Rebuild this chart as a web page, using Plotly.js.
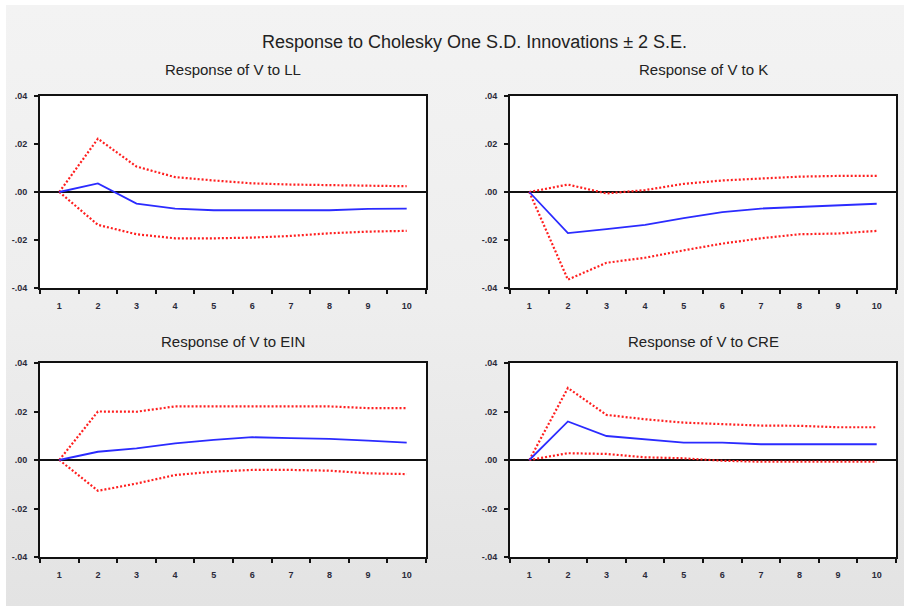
<!DOCTYPE html>
<html>
<head>
<meta charset="utf-8">
<script src="https://cdn.plot.ly/plotly-3.0.1.min.js"></script>
<style>
  html, body { margin: 0; padding: 0; }
  body { width: 904px; height: 606px; overflow: hidden; background: #fff; }
  #bg { position: absolute; left: 6px; top: 5px; width: 898px; height: 601px;
        background: linear-gradient(to bottom, #f3f3f3 0%, #eeeeee 50%, #e3e3e3 100%); }
  #chart { position: absolute; left: 0; top: 0; width: 904px; height: 606px; }
</style>
</head>
<body>
<div id="bg"></div>
<div id="chart"></div>
<script>
// Periods
const periods = [1, 2, 3, 4, 5, 6, 7, 8, 9, 10];

// Response of V to LL
const llResp  = [0, 0.0036, -0.0048, -0.0069, -0.0076, -0.0076, -0.0076, -0.0076, -0.0070, -0.0069];
const llUpper = [0, 0.0222, 0.0106, 0.0062, 0.0048, 0.0036, 0.0031, 0.0028, 0.0024, 0.0024];
const llLower = [0, -0.0137, -0.0176, -0.0193, -0.0193, -0.0190, -0.0183, -0.0172, -0.0165, -0.0162];

// Response of V to K
const kResp  = [0, -0.0171, -0.0155, -0.0137, -0.0109, -0.0084, -0.0069, -0.0062, -0.0055, -0.0049];
const kUpper = [0, 0.0031, -0.0006, 0.0008, 0.0034, 0.0048, 0.0056, 0.0064, 0.0067, 0.0067];
const kLower = [0, -0.0365, -0.0295, -0.0274, -0.0243, -0.0215, -0.0193, -0.0176, -0.0173, -0.0162];

// Response of V to EIN
const einResp  = [0, 0.0034, 0.0048, 0.0069, 0.0083, 0.0094, 0.0090, 0.0087, 0.0080, 0.0072];
const einUpper = [0, 0.0200, 0.0199, 0.0221, 0.0221, 0.0221, 0.0221, 0.0221, 0.0214, 0.0214];
const einLower = [0, -0.0127, -0.0097, -0.0062, -0.0048, -0.0041, -0.0041, -0.0044, -0.0055, -0.0058];

// Response of V to CRE
const creResp  = [0, 0.0159, 0.0099, 0.0086, 0.0072, 0.0072, 0.0065, 0.0065, 0.0065, 0.0065];
const creUpper = [0, 0.0297, 0.0186, 0.0168, 0.0154, 0.0148, 0.0142, 0.0141, 0.0135, 0.0135];
const creLower = [0, 0.0028, 0.0025, 0.0011, 0.0007, -0.0003, -0.0007, -0.0007, -0.0007, -0.0007];

// Tick labels
const yTickVals = [-0.04, -0.02, 0, 0.02, 0.04];
const yTickText = ['-.04', '-.02', '.00', '.02', '.04'];
const xTickText = ['1', '2', '3', '4', '5', '6', '7', '8', '9', '10'];

const panelTitles = ['Response of V to LL', 'Response of V to K', 'Response of V to EIN', 'Response of V to CRE'];
const mainTitle = 'Response to Cholesky One S.D. Innovations \u00B1 2 S.E.';

const panels = [
  {resp: llResp, up: llUpper, lo: llLower},
  {resp: kResp, up: kUpper, lo: kLower},
  {resp: einResp, up: einUpper, lo: einLower},
  {resp: creResp, up: creUpper, lo: creLower}
];

const W = 904, H = 606;
const boxes = [
  {l: 40, r: 426, t: 96, b: 288},
  {l: 510, r: 896, t: 96, b: 288},
  {l: 40, r: 426, t: 363, b: 557},
  {l: 510, r: 896, t: 363, b: 557}
];
const titlePos = [[233, 70], [703, 70], [233, 341], [703, 341]];

const RED = '#ff1f1f';
const BLUE = '#2b2bff';
const FONT = 'Liberation Sans, Arial, sans-serif';
const traces = [];
const layout = {
  width: W, height: H,
  margin: {l: 0, r: 0, t: 0, b: 0},
  paper_bgcolor: 'rgba(0,0,0,0)',
  plot_bgcolor: '#ffffff',
  showlegend: false,
  font: {family: FONT, color: '#222'},
  annotations: []
};

panels.forEach((p, i) => {
  const n = i + 1;
  const xa = 'x' + (n === 1 ? '' : n), ya = 'y' + (n === 1 ? '' : n);
  traces.push({x: periods, y: p.up, xaxis: xa, yaxis: ya, mode: 'lines',
    line: {color: RED, width: 2.2, dash: '2px,2px'}, hoverinfo: 'skip'});
  traces.push({x: periods, y: p.lo, xaxis: xa, yaxis: ya, mode: 'lines',
    line: {color: RED, width: 2.2, dash: '2px,2px'}, hoverinfo: 'skip'});
  traces.push({x: periods, y: p.resp, xaxis: xa, yaxis: ya, mode: 'lines',
    line: {color: BLUE, width: 1.8}, hoverinfo: 'skip'});
  const bx = boxes[i];
  const xName = 'xaxis' + (n === 1 ? '' : n), yName = 'yaxis' + (n === 1 ? '' : n);
  layout[xName] = {
    domain: [bx.l / W, bx.r / W], anchor: 'y' + (n === 1 ? '' : n),
    range: [0.5, 10.5], showgrid: false, zeroline: false,
    tickvals: periods, ticktext: xTickText,
    ticks: 'outside', ticklen: 8, tickcolor: 'rgba(0,0,0,0)',
    tickfont: {size: 9, color: '#2a2a3a', family: FONT, weight: 'bold'},
    minor: {tick0: 0.5, dtick: 1, ticks: 'outside', ticklen: 4, tickwidth: 2, tickcolor: '#111', showgrid: false},
    showline: true, mirror: true, linecolor: '#111', linewidth: 2,
    fixedrange: true
  };
  layout[yName] = {
    domain: [1 - bx.b / H, 1 - bx.t / H], anchor: 'x' + (n === 1 ? '' : n),
    range: [-0.04, 0.04], showgrid: false,
    zeroline: true, zerolinecolor: '#111', zerolinewidth: 1.5,
    tickvals: yTickVals, ticktext: yTickText,
    ticks: 'outside', ticklen: 4, tickwidth: 2, tickcolor: '#111',
    ticklabelstandoff: 5,
    tickfont: {size: 9, color: '#2a2a3a', family: FONT, weight: 'bold'},
    showline: true, mirror: true, linecolor: '#111', linewidth: 2,
    fixedrange: true
  };
  layout.annotations.push({
    text: panelTitles[i], xref: 'paper', yref: 'paper',
    x: titlePos[i][0] / W, y: 1 - titlePos[i][1] / H,
    xanchor: 'center', yanchor: 'middle', showarrow: false,
    font: {size: 15, color: '#222', family: FONT}
  });
});

layout.annotations.push({
  text: mainTitle, xref: 'paper', yref: 'paper',
  x: 474 / W, y: 1 - 42 / H, xanchor: 'center', yanchor: 'middle', showarrow: false,
  font: {size: 18, color: '#222', family: FONT}
});

Plotly.newPlot('chart', traces, layout, {displayModeBar: false, staticPlot: true});
</script>
</body>
</html>
